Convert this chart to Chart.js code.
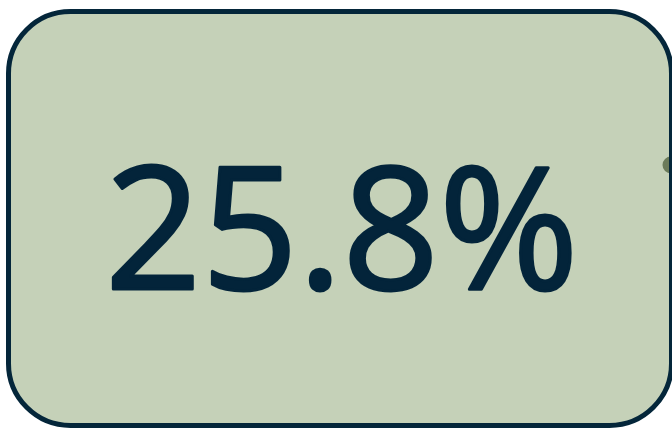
<!DOCTYPE html>
<html>
<head>
<meta charset="utf-8">
<script src="https://cdn.jsdelivr.net/npm/chart.js@4"></script>
<style>
  html, body { margin: 0; padding: 0; background: #ffffff; }
  #wrap { width: 672px; height: 429px; }
</style>
</head>
<body>
<div id="wrap"><canvas id="kpiChart" width="672" height="429"></canvas></div>
<script>
const kpiLabels = ["Share"];
const kpiValues = [25.8];
const kpiSuffix = "%";

// draws the card background and the big number
const kpiCard = {
  id: "kpiCard",
  beforeDraw(chart) {
    const ctx = chart.ctx;
    const x = 8.5, y = 11.5, w = 663, h = 414, r = 62;
    ctx.save();
    ctx.beginPath();
    ctx.roundRect(x, y, w, h, r);
    ctx.fillStyle = "#c5d1b8";
    ctx.fill();
    // small handle dot on the right edge
    ctx.beginPath();
    ctx.arc(671, 165, 8.5, 0, Math.PI * 2);
    ctx.fillStyle = "#6b7b5a";
    ctx.fill();
    ctx.beginPath();
    ctx.roundRect(x, y, w, h, r);
    ctx.lineWidth = 5;
    ctx.strokeStyle = "#04263a";
    ctx.stroke();
    ctx.restore();
  },
  afterDraw(chart) {
    const ctx = chart.ctx;
    const value = chart.data.datasets[0].data[0];
    const text = value.toFixed(1) + kpiSuffix;
    ctx.save();
    ctx.font = "400 170px 'Open Sans'";
    ctx.fillStyle = "#03243a";
    ctx.strokeStyle = "#03243a";
    ctx.lineJoin = "round";
    ctx.textAlign = "left";
    ctx.textBaseline = "alphabetic";
    const m = ctx.measureText(text);
    const inkW = m.actualBoundingBoxLeft + m.actualBoundingBoxRight;
    const sx = 458 / inkW;
    ctx.translate(113, 289);
    ctx.scale(sx, 1);
    ctx.lineWidth = 3;
    ctx.fillText(text, m.actualBoundingBoxLeft, 0);
    ctx.strokeText(text, m.actualBoundingBoxLeft, 0);
    ctx.restore();
  }
};

new Chart(document.getElementById("kpiChart"), {
  type: "bar",
  data: {
    labels: kpiLabels,
    datasets: [{
      label: "KPI",
      data: kpiValues,
      backgroundColor: "rgba(0,0,0,0)",
      borderWidth: 0
    }]
  },
  options: {
    responsive: false,
    animation: false,
    events: [],
    plugins: {
      legend: { display: false },
      tooltip: { enabled: false }
    },
    scales: {
      x: { display: false },
      y: { display: false }
    }
  },
  plugins: [kpiCard]
});
</script>
</body>
</html>
